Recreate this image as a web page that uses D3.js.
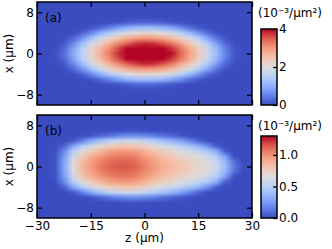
<!DOCTYPE html>
<html>
<head>
<meta charset="utf-8">
<script src="https://cdn.jsdelivr.net/npm/d3@7"></script>
<style>
  body { margin: 0; background: #fff; }
  svg { display: block; }
</style>
</head>
<body>
<script>
// columns: z (um); rows: |x| (um), the density is mirror symmetric in x
const zGrid = [-30, -27.5, -25, -22.5, -20, -17.5, -15, -12.5, -10, -7.5, -5, -2.5, 0, 2.5, 5, 7.5, 10, 12.5, 15, 17.5, 20, 22.5, 25, 27.5, 30];
const xRows = [0, 1, 2, 3, 4, 5, 6, 7, 8, 9, 10];

// (a) density, 1e-3/um^2, one row per |x|
const densityA = [
  [0, 0, 0.04, 0.32, 0.94, 1.58, 2.17, 2.71, 3.25, 3.75, 4.19, 4.51, 4.6, 4.54, 4.33, 3.96, 3.46, 2.92, 2.39, 1.83, 1.22, 0.55, 0.1, 0, 0],
  [0, 0, 0.02, 0.27, 0.84, 1.48, 2.07, 2.59, 3.1, 3.58, 4.0, 4.27, 4.41, 4.35, 4.13, 3.75, 3.3, 2.79, 2.28, 1.72, 1.11, 0.47, 0.08, 0, 0],
  [0, 0, 0, 0.13, 0.57, 1.19, 1.75, 2.25, 2.7, 3.11, 3.45, 3.69, 3.8, 3.75, 3.56, 3.26, 2.86, 2.43, 1.96, 1.41, 0.8, 0.27, 0.02, 0, 0],
  [0, 0, 0, 0.02, 0.24, 0.69, 1.24, 1.72, 2.13, 2.47, 2.74, 2.92, 3.0, 2.96, 2.82, 2.58, 2.27, 1.9, 1.44, 0.91, 0.38, 0.07, 0, 0, 0],
  [0, 0, 0, 0, 0.02, 0.2, 0.57, 1.01, 1.4, 1.72, 1.96, 2.11, 2.16, 2.14, 2.03, 1.82, 1.53, 1.18, 0.74, 0.32, 0.07, 0, 0, 0, 0],
  [0, 0, 0, 0, 0, 0, 0.08, 0.27, 0.53, 0.8, 1.03, 1.18, 1.24, 1.21, 1.1, 0.91, 0.65, 0.35, 0.14, 0.02, 0, 0, 0, 0, 0],
  [0, 0, 0, 0, 0, 0, 0, 0, 0.03, 0.09, 0.18, 0.25, 0.28, 0.27, 0.21, 0.12, 0.06, 0, 0, 0, 0, 0, 0, 0, 0],
  [0, 0, 0, 0, 0, 0, 0, 0, 0, 0, 0, 0, 0, 0, 0, 0, 0, 0, 0, 0, 0, 0, 0, 0, 0],
  [0, 0, 0, 0, 0, 0, 0, 0, 0, 0, 0, 0, 0, 0, 0, 0, 0, 0, 0, 0, 0, 0, 0, 0, 0],
  [0, 0, 0, 0, 0, 0, 0, 0, 0, 0, 0, 0, 0, 0, 0, 0, 0, 0, 0, 0, 0, 0, 0, 0, 0],
  [0, 0, 0, 0, 0, 0, 0, 0, 0, 0, 0, 0, 0, 0, 0, 0, 0, 0, 0, 0, 0, 0, 0, 0, 0]
];

// (b)
const densityB = [
  [0, 0, 0.02, 0.3, 0.65, 0.86, 0.97, 1.06, 1.12, 1.15, 1.15, 1.12, 1.05, 0.97, 0.9, 0.85, 0.8, 0.75, 0.71, 0.66, 0.58, 0.38, 0.14, 0.02, 0],
  [0, 0, 0.02, 0.29, 0.63, 0.84, 0.94, 1.03, 1.09, 1.12, 1.12, 1.09, 1.02, 0.95, 0.88, 0.83, 0.78, 0.73, 0.69, 0.63, 0.55, 0.35, 0.1, 0, 0],
  [0, 0, 0.02, 0.25, 0.58, 0.78, 0.89, 0.97, 1.03, 1.06, 1.07, 1.04, 0.97, 0.9, 0.83, 0.78, 0.73, 0.68, 0.64, 0.57, 0.47, 0.26, 0, 0, 0],
  [0, 0, 0.01, 0.19, 0.47, 0.66, 0.77, 0.86, 0.93, 0.96, 0.97, 0.94, 0.88, 0.81, 0.75, 0.7, 0.64, 0.59, 0.53, 0.44, 0.31, 0.05, 0, 0, 0],
  [0, 0, 0, 0.07, 0.29, 0.47, 0.59, 0.68, 0.75, 0.79, 0.81, 0.79, 0.74, 0.67, 0.61, 0.56, 0.5, 0.43, 0.35, 0.22, 0.05, 0, 0, 0, 0],
  [0, 0, 0, 0, 0.04, 0.16, 0.3, 0.41, 0.49, 0.55, 0.58, 0.57, 0.53, 0.47, 0.41, 0.35, 0.27, 0.18, 0.07, 0.01, 0, 0, 0, 0, 0],
  [0, 0, 0, 0, 0, 0.01, 0.03, 0.08, 0.12, 0.17, 0.21, 0.21, 0.19, 0.16, 0.11, 0.08, 0.04, 0.01, 0, 0, 0, 0, 0, 0, 0],
  [0, 0, 0, 0, 0, 0, 0, 0, 0, 0.01, 0.01, 0.02, 0.01, 0, 0, 0, 0, 0, 0, 0, 0, 0, 0, 0, 0],
  [0, 0, 0, 0, 0, 0, 0, 0, 0, 0, 0, 0, 0, 0, 0, 0, 0, 0, 0, 0, 0, 0, 0, 0, 0],
  [0, 0, 0, 0, 0, 0, 0, 0, 0, 0, 0, 0, 0, 0, 0, 0, 0, 0, 0, 0, 0, 0, 0, 0, 0],
  [0, 0, 0, 0, 0, 0, 0, 0, 0, 0, 0, 0, 0, 0, 0, 0, 0, 0, 0, 0, 0, 0, 0, 0, 0]
];

const zTicks = [-30, -15, 0, 15, 30];
const xTicks = [-8, 0, 8];
const cbarTicksA = [0, 2, 4];
const cbarTicksB = [0, 0.5, 1.0];
const panelLabels = ["(a)", "(b)"];
const unitLabel = "(10\u207B\u00B3/\u03BCm\u00B2)";

const width = 332, height = 249;
const left = 37, right = 252, ph = 103;

const svg = d3.select("body").append("svg")
    .attr("width", width)
    .attr("height", height)
    .style("font-family", "'DejaVu Sans', sans-serif")
    .style("font-size", "12px");

// matplotlib coolwarm
const coolwarm = d3.piecewise(d3.interpolateRgb, [
  "#3b4cc0", "#6282ea", "#8db0fe", "#b8d0f9", "#dddddd",
  "#f5c4ad", "#f49a7b", "#de604d", "#b40426"
]);

const defs = svg.append("defs");
const grad = defs.append("linearGradient")
    .attr("id", "cw")
    .attr("x1", 0).attr("y1", 1).attr("x2", 0).attr("y2", 0);
grad.selectAll("stop")
  .data(d3.range(0, 1.0001, 0.05))
  .join("stop")
    .attr("offset", d => d)
    .attr("stop-color", d => coolwarm(d));

const x = d3.scaleLinear().domain([-30, 30]).range([left, right]);

const panels = [
  {top: 2, grid: densityA, domain: [0, 4], ticks: cbarTicksA, fmt: d3.format("d"), cbTop: 29},
  {top: 115, grid: densityB, domain: [0, 1.3], ticks: cbarTicksB, fmt: d3.format(".1f"), cbTop: 136}
];

// image rows, top to bottom: x = 10 ... 0 ... -10
const xFull = xRows.slice().reverse().concat(xRows.slice(1).map(d => -d));

panels.forEach((p, i) => {
  const y = d3.scaleLinear().domain([-10, 10]).range([p.top + ph, p.top]);
  const color = d3.scaleSequential(coolwarm).domain(p.domain).clamp(true);

  defs.append("clipPath").attr("id", "clip" + i)
    .append("rect")
      .attr("x", left).attr("y", p.top)
      .attr("width", right - left).attr("height", ph);

  // density grid -> small canvas, scaled up smoothly as an image
  const nz = zGrid.length, nx = xFull.length;
  const canvas = document.createElement("canvas");
  canvas.width = nz;
  canvas.height = nx;
  const ctx = canvas.getContext("2d");
  const img = ctx.createImageData(nz, nx);
  xFull.forEach((xv, r) => {
    const row = p.grid[xRows.indexOf(Math.abs(xv))];
    row.forEach((v, c) => {
      const col = d3.rgb(color(v));
      const k = 4 * (r * nz + c);
      img.data[k] = col.r;
      img.data[k + 1] = col.g;
      img.data[k + 2] = col.b;
      img.data[k + 3] = 255;
    });
  });
  ctx.putImageData(img, 0, 0);

  const dz = zGrid[1] - zGrid[0], dx = xRows[1] - xRows[0];
  const g = svg.append("g");
  g.append("image")
      .attr("clip-path", `url(#clip${i})`)
      .attr("x", x(zGrid[0] - dz / 2))
      .attr("y", y(xFull[0] + dx / 2))
      .attr("width", x(zGrid[nz - 1] + dz / 2) - x(zGrid[0] - dz / 2))
      .attr("height", y(xFull[nx - 1] - dx / 2) - y(xFull[0] + dx / 2))
      .attr("preserveAspectRatio", "none")
      .attr("href", canvas.toDataURL());

  // axes, ticks inward on all four sides
  const last = i === panels.length - 1;
  g.append("g")
      .attr("transform", `translate(0,${p.top + ph})`)
      .call(d3.axisBottom(x).tickValues(zTicks).tickSizeInner(-5).tickSizeOuter(0).tickPadding(3)
        .tickFormat(last ? d3.format("d") : () => ""));
  g.append("g")
      .attr("transform", `translate(0,${p.top})`)
      .call(d3.axisTop(x).tickValues(zTicks).tickSizeInner(-5).tickSizeOuter(0).tickFormat(() => ""));
  g.append("g")
      .attr("transform", `translate(${left},0)`)
      .call(d3.axisLeft(y).tickValues(xTicks).tickSizeInner(-5).tickSizeOuter(0).tickPadding(3)
        .tickFormat(d3.format("d")));
  g.append("g")
      .attr("transform", `translate(${right},0)`)
      .call(d3.axisRight(y).tickValues(xTicks).tickSizeInner(-5).tickSizeOuter(0).tickFormat(() => ""));

  g.selectAll(".domain").remove();
  g.selectAll(".tick line").attr("stroke", "#000").attr("stroke-width", 1.3);
  g.selectAll(".tick text").attr("fill", "#000").style("font-size", "12px").style("font-family", "'DejaVu Sans', sans-serif");

  g.append("rect")
      .attr("x", left).attr("y", p.top)
      .attr("width", right - left).attr("height", ph)
      .attr("fill", "none").attr("stroke", "#000").attr("stroke-width", 1.5);

  g.append("text")
      .attr("x", 45).attr("y", p.top + 20)
      .text(panelLabels[i]);

  g.append("text")
      .attr("transform", `translate(13,${y(0)}) rotate(-90)`)
      .attr("text-anchor", "middle")
      .text("x (\u03BCm)");

  // colorbar
  const cb = d3.scaleLinear().domain(p.domain).range([p.top + ph, p.cbTop]);
  const cg = svg.append("g");
  cg.append("rect")
      .attr("x", 261).attr("y", p.cbTop)
      .attr("width", 16).attr("height", p.top + ph - p.cbTop)
      .attr("fill", "url(#cw)");
  cg.append("g")
      .attr("transform", "translate(277,0)")
      .call(d3.axisRight(cb).tickValues(p.ticks).tickSizeInner(-4).tickSizeOuter(0).tickPadding(2)
        .tickFormat(p.fmt))
      .call(a => a.select(".domain").remove())
      .call(a => a.selectAll(".tick line").attr("stroke", "#000").attr("stroke-width", 1.3))
      .call(a => a.selectAll(".tick text").style("font-size", "12px").style("font-family", "'DejaVu Sans', sans-serif"));
  cg.append("rect")
      .attr("x", 261).attr("y", p.cbTop)
      .attr("width", 16).attr("height", p.top + ph - p.cbTop)
      .attr("fill", "none").attr("stroke", "#000").attr("stroke-width", 1.5);
  cg.append("text")
      .attr("x", 258).attr("y", p.top + 15)
      .text(unitLabel);
});

svg.append("text")
    .attr("x", x(0)).attr("y", 242)
    .attr("text-anchor", "middle")
    .text("z (\u03BCm)");
</script>
</body>
</html>
